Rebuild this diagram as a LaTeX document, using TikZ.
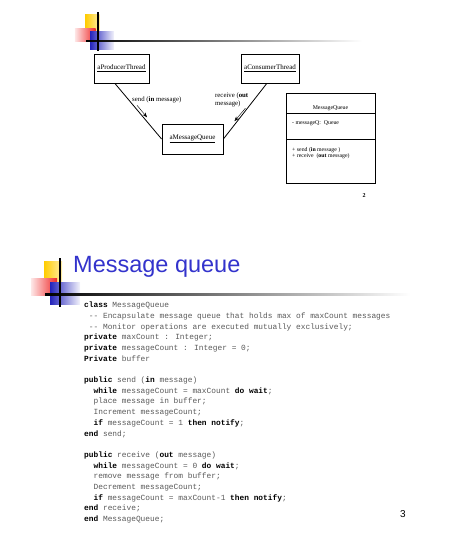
\documentclass[tikz,border=0pt]{standalone}
\usepackage{fontspec}
\setmainfont{Liberation Serif}
\newfontfamily\slidesans{Liberation Sans}
\newfontfamily\codefont{Liberation Mono}
\usetikzlibrary{arrows.meta, positioning}
\definecolor{TitleBlue}{HTML}{3333CC}
\definecolor{LogoGold}{HTML}{FFCC00}
\definecolor{LogoRed}{HTML}{EE1111}
\definecolor{LogoBlue}{HTML}{2222BB}
\newcommand{\kw}[1]{\textbf{\color{black}#1}}
% slide logo: crossing point, scale, length of the fading rule
\newcommand{\slidelogo}[3]{%
  \begin{scope}[shift={#1}, scale=#2]
    \shade[left color=LogoGold, right color=LogoGold!35] (-16,-33) rectangle (2,-12);
    \shade[left color=LogoRed!10, right color=LogoRed!90] (-29,-16) rectangle (-3,1);
    \shade[left color=LogoBlue, right color=LogoBlue!5] (-10,-12) rectangle (20,10);
    \shade[left color=black, right color=white] (-15,-1) rectangle (#3,1);
    \draw[line width=1.3pt] (0,-36) -- (0,13);
  \end{scope}}

\begin{document}
\begin{tikzpicture}[x=1pt, y=-1pt, >=Stealth,
  objbox/.style={draw, line width=0.8pt, inner sep=0pt, font=\fontsize{7}{8}\selectfont},
  msglabel/.style={inner sep=0pt, font=\fontsize{6.8}{7.8}\selectfont, align=left, anchor=west},
  classtext/.style={inner sep=0pt, font=\fontsize{5.8}{6.5}\selectfont, anchor=west},
  msgarrow/.style={->, line width=0.4pt, shorten >=0pt}]
  \useasboundingbox (0,0) rectangle (460,541);

  % ---- slide 2: collaboration diagram
  \slidelogo{(98,41)}{0.8}{330}
  \node[objbox, minimum width=55, minimum height=29] (prod) at (121.5,68.5) {\underline{aProducerThread}};
  \node[objbox, minimum width=58, minimum height=29] (cons) at (270,68.5) {\underline{aConsumerThread}};
  \node[objbox, minimum width=61, minimum height=30] (mq) at (192.5,139) {\underline{aMessageQueue}};
  \draw[line width=0.8pt] (prod.246) -- (mq.west);
  \draw[line width=0.8pt] (cons.258) -- (mq.east);
  \node[msglabel] (snd) at (132,100) {send (\textbf{in} message)};
  \node[msglabel] (rcv) at (215,100) {receive (\textbf{out}\\message)};
  \draw[msgarrow] ([xshift=5pt, yshift=-2pt]snd.south west) -- ++(10,12);
  \draw[msgarrow] ([xshift=-3pt, yshift=-1pt]rcv.south east) -- ++(-11,13);

  % class box
  \draw[line width=0.8pt] (286,93) rectangle (375,183);
  \draw[line width=0.8pt] (286,113) -- (375,113);
  \draw[line width=0.8pt] (286,139) -- (375,139);
  \node[classtext, anchor=center] (cname) at (330.5,108) {MessageQueue};
  \node[classtext] (cattr) at (292,123) {- messageQ:\ \ Queue};
  \node[classtext] (csend) at (292,150) {+ send (\textbf{in} message )};
  \node[classtext] (crecv) at (292,156.5) {+ receive\ \ (\textbf{out} message)};
  \node[font=\fontsize{6}{7}\selectfont\bfseries, inner sep=0pt] (pg2) at (364,196) {2};

  % ---- slide 3: the monitor code
  \slidelogo{(60,294)}{1}{350}
  \node[anchor=base west, inner sep=0pt, text=TitleBlue, font=\slidesans\fontsize{23.5}{26}\selectfont] (title) at (73,272) {Message queue};
  \node[anchor=north west, inner sep=0pt, align=left, text=black!65,
        font=\codefont\fontsize{7.85}{10.7}\selectfont] (code) at (84,300) {%
    \strut\kw{class} MessageQueue\\
    \hphantom{x}-- Encapsulate message queue that holds max of maxCount messages\\
    \hphantom{x}-- Monitor operations are executed mutually exclusively;\\
    \kw{private} maxCount : Integer;\\
    \kw{private} messageCount : Integer = 0;\\
    \kw{Private} buffer\\
    \mbox{}\\
    \kw{public} send (\kw{in} message)\\
    \hphantom{xx}\kw{while} messageCount = maxCount \kw{do wait};\\
    \hphantom{xx}place message in buffer;\\
    \hphantom{xx}Increment messageCount;\\
    \hphantom{xx}\kw{if} messageCount = 1 \kw{then notify};\\
    \kw{end} send;\\
    \mbox{}\\
    \kw{public} receive (\kw{out} message)\\
    \hphantom{xx}\kw{while} messageCount = 0 \kw{do wait};\\
    \hphantom{xx}remove message from buffer;\\
    \hphantom{xx}Decrement messageCount;\\
    \hphantom{xx}\kw{if} messageCount = maxCount-1 \kw{then notify};\\
    \kw{end} receive;\\
    \kw{end} MessageQueue;};
  \node[font=\slidesans\fontsize{10}{12}\selectfont, inner sep=0pt] (pg3) at (403,514) {3};
\end{tikzpicture}
\end{document}
